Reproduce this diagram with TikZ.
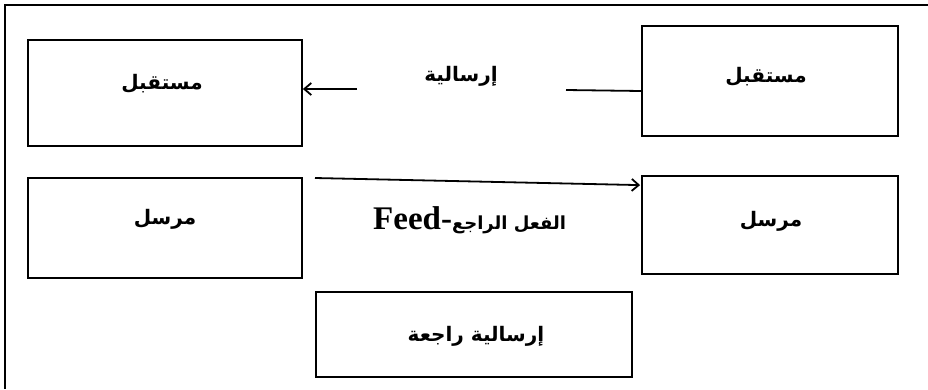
\documentclass[tikz,border=0pt]{standalone}
\usepackage{fontspec}
\setmainfont{Liberation Serif}
\newfontfamily\arabicfont[Script=Arabic]{DejaVu Sans}
\TeXXeTstate=1
\usetikzlibrary{arrows.meta,calc}
\begin{document}
\begin{tikzpicture}[x=1pt,y=-1pt,
  boxnode/.style={draw,line width=1.8pt,inner sep=0pt,anchor=center},
  ar/.style={font=\arabicfont\bfseries\fontsize{20}{24}\selectfont,inner sep=0pt},
  conn/.style={line width=1.8pt},
  arr/.style={conn,-{Straight Barb[length=7pt,width=12pt,line width=1.8pt]}}]
\useasboundingbox (0,0) rectangle (928,389);
\draw[line width=2.6pt] (928,5) -- (5,5) -- (5,389);
% boxes
\node[boxnode,minimum width=274pt,minimum height=106pt] (TL) at (165,93) {};
\node[boxnode,minimum width=256pt,minimum height=110pt] (TR) at (770,81) {};
\node[boxnode,minimum width=274pt,minimum height=100pt] (ML) at (165,228) {};
\node[boxnode,minimum width=256pt,minimum height=98pt] (MR) at (770,225) {};
\node[boxnode,minimum width=316pt,minimum height=85pt] (B) at (474,334.5) {};
% texts
\node[ar] (tTL) at (162,84) {\beginR مستقبل\endR};
\node[ar] (tTR) at (766,77) {\beginR مستقبل\endR};
\node[ar] (tML) at (165,219) {\beginR مرسل\endR};
\node[ar] (tMR) at (771,221) {\beginR مرسل\endR};
\node[ar] (tB) at (476,336) {\beginR إرسالية راجعة\endR};
\node[ar] (tMsg) at (461,76) {\beginR إرسالية\endR};
\node[inner sep=0pt,anchor=base west] (tFeed) at (373,229) {\fontsize{33}{36}\selectfont\bfseries Feed-{\arabicfont\fontsize{18}{20}\selectfont\beginR الفعل الراجع\endR}};
% connectors
\coordinate (c1) at (566,90);
\draw[conn] (TR.west |- 0,91) -- (c1);
\coordinate (c2) at (357,89);
\draw[arr] (c2) -- (c2 -| TL.east);
\coordinate (c3) at (315,178);
\draw[arr] (c3) -- ($(MR.north west)+(-1,10)$);
\end{tikzpicture}
\end{document}
